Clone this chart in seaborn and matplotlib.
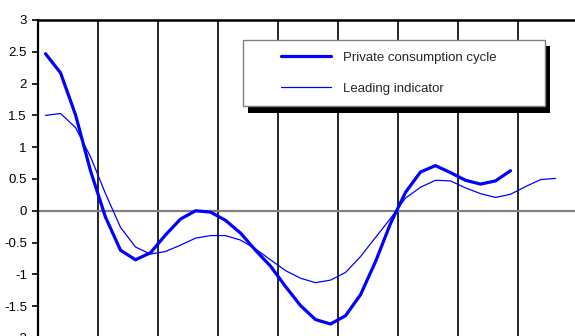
import numpy as np
import pandas as pd
import matplotlib
matplotlib.use("Agg")
import matplotlib.pyplot as plt
from matplotlib.patches import Rectangle
from matplotlib.ticker import FixedLocator, FuncFormatter
import seaborn as sns

# Quarterly cycle values
cycle = [2.47, 2.17, 1.51, 0.63, -0.10, -0.62, -0.77, -0.66, -0.38, -0.13,
         0.00, -0.02, -0.15, -0.35, -0.62, -0.87, -1.19, -1.49, -1.71, -1.78,
         -1.65, -1.32, -0.80, -0.20, 0.29, 0.61, 0.71, 0.60, 0.48, 0.42,
         0.47, 0.63]
leading = [1.50, 1.53, 1.31, 0.85, 0.27, -0.26, -0.57, -0.68, -0.64, -0.54,
           -0.43, -0.39, -0.39, -0.46, -0.60, -0.77, -0.94, -1.06, -1.13, -1.09,
           -0.97, -0.72, -0.42, -0.12, 0.20, 0.37, 0.48, 0.47, 0.36, 0.27,
           0.21, 0.26, 0.38, 0.49, 0.51]
series_names = ["Private consumption cycle", "Leading indicator"]
y_ticks = [-2, -1.5, -1, -0.5, 0, 0.5, 1, 1.5, 2, 2.5, 3]
n_quarters = 36

df = pd.concat([
    pd.DataFrame({"q": np.arange(len(cycle)) + 0.5, "value": cycle,
                  "series": series_names[0]}),
    pd.DataFrame({"q": np.arange(len(leading)) + 0.5, "value": leading,
                  "series": series_names[1]}),
])

sns.set_style("white")
plt.rcParams["font.family"] = ["Liberation Sans", "DejaVu Sans"]

W, H = 575, 336
fig = plt.figure(figsize=(W / 100, H / 100), dpi=100)
fx = lambda px: px / W
fy = lambda py: 1 - py / H

ax = fig.add_axes([fx(38), fy(338), 540 / W, 318 / H])

# year separators
for x in range(4, n_quarters, 4):
    ax.axvline(x, color="black", lw=1.2, zorder=1)
ax.axhline(0, color="#808080", lw=1.6, zorder=1.5)

sns.lineplot(data=df[df.series == series_names[0]], x="q", y="value",
             color="#0000FF", linewidth=2.3, label=series_names[0], ax=ax,
             zorder=3)
sns.lineplot(data=df[df.series == series_names[1]], x="q", y="value",
             color="#0000FF", linewidth=0.9, label=series_names[1], ax=ax,
             zorder=3)

ax.set_xlim(0, n_quarters)
ax.set_ylim(-2, 3)
ax.set_xticks([])
ax.yaxis.set_major_locator(FixedLocator(y_ticks))
ax.yaxis.set_major_formatter(FuncFormatter(lambda v, p: f"{v:g}"))
ax.tick_params(axis="y", direction="out", length=4, width=1.2, pad=4,
               labelsize=9.5, left=True, colors="black")
ax.set_xlabel("")
ax.set_ylabel("")
for side in ("right", "bottom"):
    ax.spines[side].set_visible(False)
ax.spines["top"].set_linewidth(1.8)
ax.spines["left"].set_linewidth(1.6)
ax.spines["top"].set_color("black")
ax.spines["left"].set_color("black")

# legend box with drop shadow
fig.patches.append(Rectangle((fx(248), fy(113)), 302 / W, 67 / H,
                             transform=fig.transFigure, facecolor="black",
                             edgecolor="none", zorder=10))
fig.patches.append(Rectangle((fx(243), fy(106)), 302 / W, 66 / H,
                             transform=fig.transFigure, facecolor="white",
                             edgecolor="#808080", lw=1.0, zorder=11))
handles, labels = ax.get_legend_handles_labels()
leg = fig.legend(handles, labels, loc="upper left",
                 bbox_to_anchor=(fx(274), fy(45)), bbox_transform=fig.transFigure,
                 frameon=False, borderpad=0, handlelength=3.8,
                 handletextpad=0.9, labelspacing=1.4, fontsize=9.5)
leg.set_zorder(12)
if ax.get_legend() is not None:
    ax.get_legend().remove()

fig.savefig("out.png", dpi=100)
